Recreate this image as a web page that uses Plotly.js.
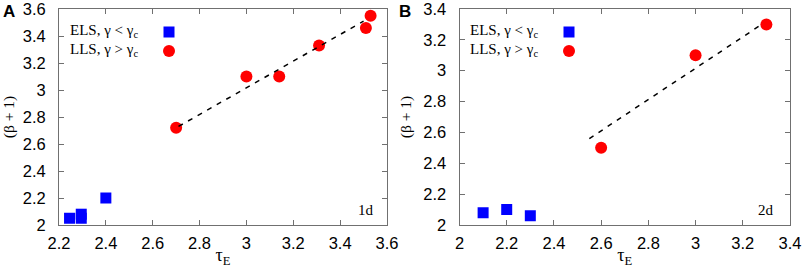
<!DOCTYPE html>
<html>
<head>
<meta charset="utf-8">
<script src="https://cdn.plot.ly/plotly-3.0.1.min.js"></script>
<style>html,body{margin:0;padding:0;background:#fff;}#chart{width:803px;height:268px;}</style>
</head>
<body>
<div id="chart"></div>
<script>
// ---- Data ----
const panelA_elsX = [2.245, 2.295, 2.295, 2.40];
const panelA_elsY = [2.05, 2.05, 2.08, 2.20];
const panelA_llsX = [2.70, 3.00, 3.14, 3.31, 3.51, 3.53];
const panelA_llsY = [2.72, 3.10, 3.10, 3.33, 3.46, 3.55];
const panelA_fitX = [2.71, 3.50];
const panelA_fitY = [2.73, 3.51];

const panelB_elsX = [2.1, 2.2, 2.3];
const panelB_elsY = [2.08, 2.10, 2.06];
const panelB_llsX = [2.6, 3.0, 3.3];
const panelB_llsY = [2.50, 3.10, 3.30];
const panelB_fitX = [2.55, 3.28];
const panelB_fitY = [2.56, 3.30];

const legendLabels = ['ELS, γ < γ<sub>c</sub>', 'LLS, γ > γ<sub>c</sub>'];
const panelTags = ['1d', '2d'];
const panelLetters = ['A', 'B'];
const xTitle = 'τ<sub>E</sub>';
const yTitle = '(β + 1)';
const tickValsA_x = [2.2, 2.4, 2.6, 2.8, 3.0, 3.2, 3.4, 3.6];
const tickValsA_y = [2.0, 2.2, 2.4, 2.6, 2.8, 3.0, 3.2, 3.4, 3.6];
const tickValsB_x = [2.0, 2.2, 2.4, 2.6, 2.8, 3.0, 3.2, 3.4];
const tickValsB_y = [2.0, 2.2, 2.4, 2.6, 2.8, 3.0, 3.2, 3.4];

// ---- Layout helpers ----
const W = 803, H = 268, L = 59, R = 13, T = 9, Bm = 43;
const PW = W - L - R, PH = H - T - Bm;
const fx = px => (px - L) / PW;
const fy = py => (H - Bm - py) / PH;

const BLUE = '#0000ff', RED = '#ff0000';
const SERIF = 'Liberation Serif, Times New Roman, serif';
const SANS = 'Liberation Sans, Arial, sans-serif';

const traces = [
  {x: panelA_elsX, y: panelA_elsY, xaxis: 'x', yaxis: 'y', mode: 'markers', name: ' ', legend: 'legend',
   marker: {symbol: 'square', size: 11, color: BLUE}},
  {x: panelA_llsX, y: panelA_llsY, xaxis: 'x', yaxis: 'y', mode: 'markers', name: ' ', legend: 'legend',
   marker: {symbol: 'circle', size: 12, color: RED}},
  {x: panelA_fitX, y: panelA_fitY, xaxis: 'x', yaxis: 'y', mode: 'lines', showlegend: false,
   line: {color: '#000', width: 1.5, dash: '5px,6px'}},
  {x: panelB_elsX, y: panelB_elsY, xaxis: 'x2', yaxis: 'y2', mode: 'markers', name: ' ', legend: 'legend2',
   marker: {symbol: 'square', size: 11, color: BLUE}},
  {x: panelB_llsX, y: panelB_llsY, xaxis: 'x2', yaxis: 'y2', mode: 'markers', name: ' ', legend: 'legend2',
   marker: {symbol: 'circle', size: 12, color: RED}},
  {x: panelB_fitX, y: panelB_fitY, xaxis: 'x2', yaxis: 'y2', mode: 'lines', showlegend: false,
   line: {color: '#000', width: 1.5, dash: '5px,6px'}}
];

function axisBase(extra) {
  return Object.assign({
    showline: true, linecolor: '#707070', linewidth: 1, mirror: 'allticks',
    ticks: 'inside', ticklen: 5, tickwidth: 1, tickcolor: '#707070',
    showgrid: false, zeroline: false, tickmode: 'array',
    tickfont: {family: SANS, size: 16.5, color: '#000'},
    ticklabeloverflow: 'allow',
    fixedrange: true
  }, extra);
}

const legendBase = {
  bgcolor: 'rgba(0,0,0,0)', borderwidth: 0, xanchor: 'left', yanchor: 'top',
  font: {family: SERIF, size: 11}, itemclick: false, itemdoubleclick: false
};

const annFont = {family: SERIF, size: 15, color: '#000'};
const annotations = [
  {xref: 'paper', yref: 'paper', x: fx(9), y: fy(12), text: '<b>' + panelLetters[0] + '</b>', showarrow: false,
   xanchor: 'center', yanchor: 'middle', font: {family: SANS, size: 17, color: '#000'}},
  {xref: 'paper', yref: 'paper', x: fx(405), y: fy(12), text: '<b>' + panelLetters[1] + '</b>', showarrow: false,
   xanchor: 'center', yanchor: 'middle', font: {family: SANS, size: 17, color: '#000'}},
  {xref: 'paper', yref: 'paper', x: fx(68), y: fy(31), text: legendLabels[0], showarrow: false,
   xanchor: 'left', yanchor: 'middle', font: annFont},
  {xref: 'paper', yref: 'paper', x: fx(68), y: fy(50), text: legendLabels[1], showarrow: false,
   xanchor: 'left', yanchor: 'middle', font: annFont},
  {xref: 'paper', yref: 'paper', x: fx(468), y: fy(31), text: legendLabels[0], showarrow: false,
   xanchor: 'left', yanchor: 'middle', font: annFont},
  {xref: 'paper', yref: 'paper', x: fx(468), y: fy(50), text: legendLabels[1], showarrow: false,
   xanchor: 'left', yanchor: 'middle', font: annFont},
  {xref: 'paper', yref: 'paper', x: fx(376), y: fy(210), text: panelTags[0], showarrow: false,
   xanchor: 'right', yanchor: 'middle', font: annFont},
  {xref: 'paper', yref: 'paper', x: fx(776), y: fy(210), text: panelTags[1], showarrow: false,
   xanchor: 'right', yanchor: 'middle', font: annFont}
];

const layout = {
  width: W, height: H,
  margin: {l: L, r: R, t: T, b: Bm, pad: 0},
  paper_bgcolor: '#fff', plot_bgcolor: '#fff',
  font: {family: SANS, color: '#000'},
  xaxis: axisBase({domain: [0, fx(387)], range: [2.2, 3.6], anchor: 'y', ticklabelstandoff: 3,
    tickvals: tickValsA_x,
    title: {text: xTitle, font: {family: SERIF, size: 18, color: '#000'}, standoff: 0}}),
  yaxis: axisBase({domain: [0, 1], range: [2, 3.6], anchor: 'x', ticklabelstandoff: 9,
    tickvals: tickValsA_y,
    title: {text: yTitle, font: {family: SERIF, size: 15.5, color: '#000'}, standoff: 7}}),
  xaxis2: axisBase({domain: [fx(459.5), 1], range: [2, 3.4], anchor: 'y2', ticklabelstandoff: 3,
    tickvals: tickValsB_x,
    title: {text: xTitle, font: {family: SERIF, size: 18, color: '#000'}, standoff: 0}}),
  yaxis2: axisBase({domain: [0, 1], range: [2, 3.4], anchor: 'x2', ticklabelstandoff: 9,
    tickvals: tickValsB_y,
    title: {text: yTitle, font: {family: SERIF, size: 15.5, color: '#000'}, standoff: 7}}),
  legend: Object.assign({}, legendBase, {x: fx(149), y: fy(17.5)}),
  legend2: Object.assign({}, legendBase, {x: fx(549), y: fy(17.5)}),
  annotations: annotations
};

Plotly.newPlot('chart', traces, layout, {displayModeBar: false, staticPlot: true});
</script>
</body>
</html>
